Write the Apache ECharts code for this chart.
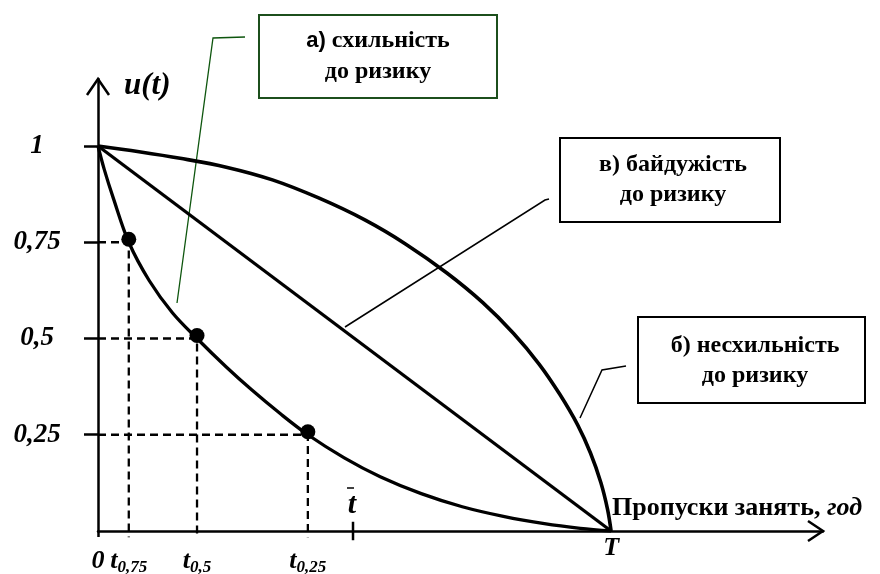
<!DOCTYPE html>
<html>
<head>
<meta charset="utf-8">
<script src="https://cdn.jsdelivr.net/npm/echarts@6/dist/echarts.min.js"></script>
<style>
html, body { margin: 0; padding: 0; background: #fff; }
#chart { width: 880px; height: 574px; }
</style>
</head>
<body>
<div id="chart"></div>
<script>
// t in parts of T, u from 0 to 1
var xMax = 1.413
var yMax = 1.174

// а) схильність до ризику
var seeking = [[0, 1], [0.012, 0.94], [0.03, 0.864], [0.06, 0.75], [0.1, 0.65], [0.145, 0.567], [0.193, 0.5], [0.25, 0.426], [0.3, 0.366], [0.355, 0.305], [0.409, 0.25], [0.48, 0.19], [0.55, 0.141], [0.63, 0.097], [0.71, 0.063], [0.79, 0.038], [0.87, 0.019], [0.94, 0.007], [1, 0]]
// б) несхильність до ризику
var averse = [[0, 1], [0.08, 0.985], [0.16, 0.968], [0.25, 0.945], [0.34, 0.912], [0.43, 0.865], [0.52, 0.808], [0.6, 0.745], [0.68, 0.67], [0.75, 0.593], [0.81, 0.513], [0.86, 0.433], [0.9, 0.355], [0.935, 0.275], [0.96, 0.202], [0.98, 0.126], [0.993, 0.057], [1, 0]]
// в) байдужість до ризику
var neutral = [[0, 1], [1, 0]]

var levels = [0.75, 0.5, 0.25]
var levelTimes = [0.06, 0.193, 0.409]
var levelNames = ['0,75', '0,5', '0,25']
var tBar = 0.497
var yTicks = [0.25, 0.5, 0.75, 1]
var yTickLabels = ['0,25', '0,5', '0,75', '1']

var serif = '"Liberation Serif", "DejaVu Serif", serif'
var green = '#1c4f1c'

var chart = echarts.init(document.getElementById('chart'))

var dashSeries = levels.map(function (u, i) {
  var t = levelTimes[i]
  return {
    type: 'line',
    data: [[0, u], [t, u], [t, -0.016]],
    symbol: 'none',
    clip: false,
    silent: true,
    lineStyle: { color: '#000', width: 2.3, type: [8, 5] },
    z: 2
  }
})

function xLabel (value) {
  if (Math.abs(value) < 1e-9) return '{n|0}'
  if (Math.abs(value - 1) < 1e-9) return '{T|T}'
  for (var i = 0; i < levelTimes.length; i++) {
    if (Math.abs(value - levelTimes[i]) < 1e-9) return '{t|t}{s|' + levelNames[i] + '}'
  }
  return ''
}

function yLabel (value) {
  var i = yTicks.findIndex(function (v) { return Math.abs(v - value) < 1e-9 })
  return i >= 0 ? yTickLabels[i] : ''
}

var labelFont = { fontFamily: serif, fontStyle: 'italic', fontWeight: 'bold', color: '#000' }

chart.setOption({
  animation: false,
  backgroundColor: '#fff',
  grid: { left: 98, top: 79, right: 57, bottom: 43, containLabel: false, outerBoundsMode: 'none' },
  xAxis: {
    type: 'value',
    min: 0,
    max: xMax,
    axisLine: { show: true, lineStyle: { color: '#000', width: 2.5 } },
    axisTick: { show: true, customValues: [0], length: 6, lineStyle: { color: '#000', width: 2.5 } },
    splitLine: { show: false },
    axisLabel: {
      customValues: [0].concat(levelTimes, [1]),
      hideOverlap: false,
      margin: 17,
      formatter: xLabel,
      rich: {
        n: Object.assign({ fontSize: 26, lineHeight: 24, verticalAlign: 'top' }, labelFont),
        t: Object.assign({ fontSize: 26, lineHeight: 24, verticalAlign: 'top' }, labelFont),
        s: Object.assign({ fontSize: 17, lineHeight: 40 }, labelFont),
        T: Object.assign({ fontSize: 26, lineHeight: 1 }, labelFont)
      }
    }
  },
  yAxis: {
    type: 'value',
    min: 0,
    max: yMax,
    axisLine: { show: true, lineStyle: { color: '#000', width: 2.5 } },
    axisTick: { show: true, customValues: yTicks, length: 14, lineStyle: { color: '#000', width: 2.5 } },
    splitLine: { show: false },
    axisLabel: Object.assign({
      customValues: yTicks,
      hideOverlap: false,
      margin: 61,
      align: 'center',
      fontSize: 27,
      formatter: yLabel
    }, labelFont)
  },
  series: dashSeries.concat([
    {
      type: 'line',
      data: averse,
      smooth: 0.35,
      symbol: 'none',
      lineStyle: { color: '#000', width: 3.6 },
      z: 3
    },
    {
      type: 'line',
      data: neutral,
      symbol: 'none',
      lineStyle: { color: '#000', width: 3.2 },
      z: 3
    },
    {
      type: 'line',
      data: seeking,
      smooth: 0.35,
      symbol: 'none',
      lineStyle: { color: '#000', width: 3.3 },
      z: 3
    },
    {
      type: 'scatter',
      data: levelTimes.map(function (t, i) { return [t, levels[i]] }),
      symbolSize: 15,
      symbolOffset: [0, -3],
      itemStyle: { color: '#000', opacity: 1 },
      z: 4
    },
    {
      // позначка t̄ на осі
      type: 'line',
      data: [[tBar, -0.024], [tBar, 0.024]],
      symbol: 'none',
      clip: false,
      lineStyle: { color: '#000', width: 2.5 },
      z: 4
    }
  ])
})

var yTop = chart.convertToPixel({ gridIndex: 0 }, [0, yMax])
var xEnd = chart.convertToPixel({ gridIndex: 0 }, [xMax, 0])
var barPos = chart.convertToPixel({ gridIndex: 0 }, [tBar, 0])

function box (x, y, w, h, color, lines, cx, y1, y2) {
  return [
    { type: 'rect', shape: { x: x, y: y, width: w, height: h }, style: { fill: '#fff', stroke: color, lineWidth: 2 }, z: 10 },
    { type: 'text', x: cx, y: y1, style: { text: lines[0], font: 'bold 24px ' + serif, fill: '#000', align: 'center', verticalAlign: 'middle', rich: { a: { fontFamily: '"Liberation Sans", Arial, sans-serif', fontWeight: 'bold', fontSize: 22 } } }, z: 11 },
    { type: 'text', x: cx, y: y2, style: { text: lines[1], font: 'bold 24px ' + serif, fill: '#000', align: 'center', verticalAlign: 'middle' }, z: 11 }
  ]
}

var graphics = [
  // стрілки осей
  { type: 'polyline', shape: { points: [[yTop[0] - 11, yTop[1] + 16], [yTop[0], yTop[1]], [yTop[0] + 11, yTop[1] + 16]] }, style: { stroke: '#000', lineWidth: 2.5, fill: null } },
  { type: 'polyline', shape: { points: [[xEnd[0] - 15, xEnd[1] - 10], [xEnd[0], xEnd[1]], [xEnd[0] - 15, xEnd[1] + 10]] }, style: { stroke: '#000', lineWidth: 2.5, fill: null } },
  { type: 'text', x: 124, y: 86, style: { text: 'u(t)', font: 'italic bold 31px ' + serif, fill: '#000', verticalAlign: 'middle' } },
  { type: 'text', x: barPos[0] - 1, y: barPos[1] - 26, style: { text: 't', font: 'italic bold 30px ' + serif, fill: '#000', align: 'center', verticalAlign: 'middle' } },
  { type: 'line', shape: { x1: barPos[0] - 6, y1: barPos[1] - 43, x2: barPos[0] + 1, y2: barPos[1] - 43 }, style: { stroke: '#000', lineWidth: 1.5 } },
  {
    type: 'text', x: 612, y: 508,
    style: {
      text: '{b|Пропуски занять, }{i|год}',
      verticalAlign: 'middle',
      rich: {
        b: { fontFamily: serif, fontWeight: 'bold', fontSize: 26, color: '#000' },
        i: { fontFamily: serif, fontWeight: 'bold', fontStyle: 'italic', fontSize: 26, color: '#000' }
      }
    }
  },
  // виноски
  { type: 'polyline', shape: { points: [[245, 37], [213, 38], [177, 303]] }, style: { stroke: '#0e560e', lineWidth: 1.3, fill: null } },
  { type: 'polyline', shape: { points: [[345, 327], [545, 200], [549, 199]] }, style: { stroke: '#000', lineWidth: 1.5, fill: null } },
  { type: 'polyline', shape: { points: [[580, 418], [602, 370], [626, 366]] }, style: { stroke: '#000', lineWidth: 1.5, fill: null } }
]

graphics = graphics
  .concat(box(259, 15, 238, 83, green, ['{a|а)} схильність', 'до ризику'], 378, 41, 72))
  .concat(box(560, 138, 220, 84, '#000', ['в) байдужість', 'до ризику'], 673, 165, 195))
  .concat(box(638, 317, 227, 86, '#000', ['б) несхильність', 'до ризику'], 755, 346, 376))

chart.setOption({ graphic: graphics })
</script>
</body>
</html>
